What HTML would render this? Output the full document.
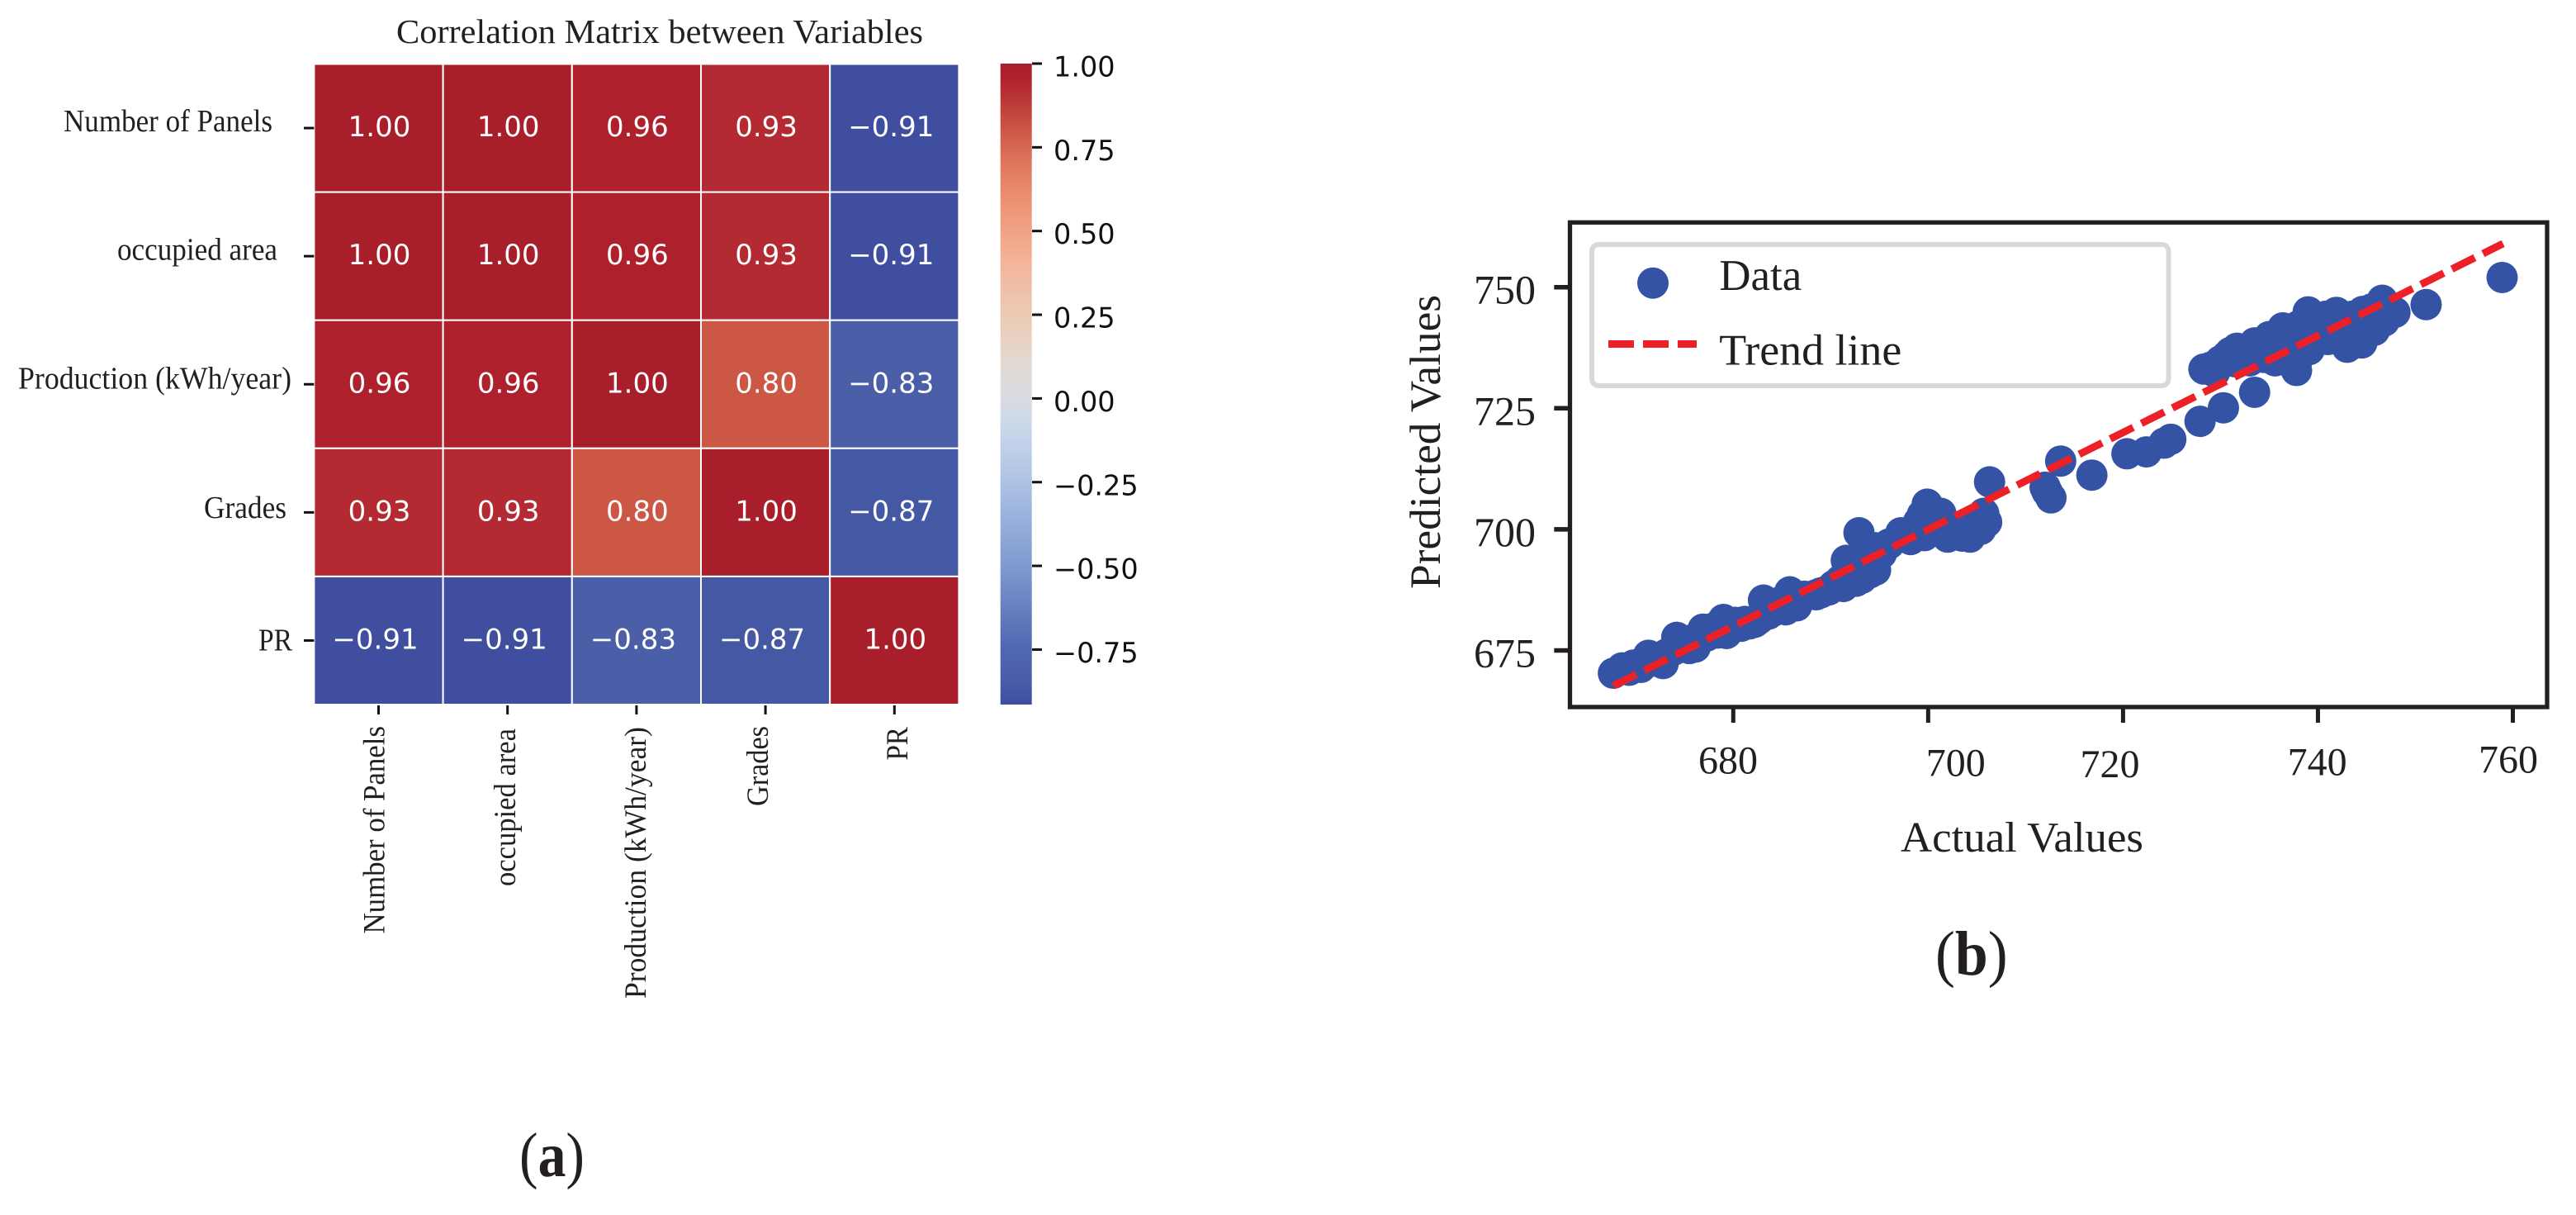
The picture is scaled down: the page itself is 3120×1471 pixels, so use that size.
<!DOCTYPE html>
<html>
<head>
<meta charset="utf-8">
<title>Correlation matrix and predicted vs actual</title>
<style>
html,body{margin:0;padding:0;background:#fff;}
svg{display:block;}
.serif{font-family:"Liberation Serif",serif;fill:#231f20;}
.sans{font-family:"DejaVu Sans",sans-serif;}
</style>
</head>
<body>
<svg id="fig" xmlns="http://www.w3.org/2000/svg" width="3120" height="1471" viewBox="0 0 3120 1471">
  <rect x="0" y="0" width="3120" height="1471" fill="#ffffff"/>
  <defs>
    <linearGradient id="cbGrad" x1="0" y1="0" x2="0" y2="1"></linearGradient>
  </defs>

  <!-- Panel (a) -->
  <text class="serif" x="480" y="52" font-size="41" textLength="638" lengthAdjust="spacingAndGlyphs">Correlation Matrix between Variables</text>
  <g id="heatCells"></g>
  <g id="heatAnnots"></g>
  <g id="heatTicks"></g>

  <text class="serif" x="77" y="159" font-size="38" textLength="253" lengthAdjust="spacingAndGlyphs">Number of Panels</text>
  <text class="serif" x="142" y="314.6" font-size="38" textLength="194" lengthAdjust="spacingAndGlyphs">occupied area</text>
  <text class="serif" x="22" y="470.7" font-size="38" textLength="331" lengthAdjust="spacingAndGlyphs">Production (kWh/year)</text>
  <text class="serif" x="247" y="627" font-size="38" textLength="100" lengthAdjust="spacingAndGlyphs">Grades</text>
  <text class="serif" x="313" y="787.6" font-size="38" textLength="41" lengthAdjust="spacingAndGlyphs">PR</text>

  <text class="serif" transform="translate(465.6 1130.5) rotate(-90)" font-size="37" textLength="251.5" lengthAdjust="spacingAndGlyphs">Number of Panels</text>
  <text class="serif" transform="translate(623.8 1073) rotate(-90)" font-size="37" textLength="191" lengthAdjust="spacingAndGlyphs">occupied area</text>
  <text class="serif" transform="translate(782 1209) rotate(-90)" font-size="37" textLength="329" lengthAdjust="spacingAndGlyphs">Production (kWh/year)</text>
  <text class="serif" transform="translate(930 976) rotate(-90)" font-size="37" textLength="97" lengthAdjust="spacingAndGlyphs">Grades</text>
  <text class="serif" transform="translate(1099 920.5) rotate(-90)" font-size="37" textLength="40.5" lengthAdjust="spacingAndGlyphs">PR</text>

  <rect x="1211.7" y="77" width="38" height="776" fill="url(#cbGrad)"/>
  <g id="cbTicks"></g>

  <text class="serif" x="629" y="1424" font-size="76" textLength="79" lengthAdjust="spacingAndGlyphs">(<tspan font-weight="bold">a</tspan>)</text>

  <!-- Panel (b) -->
  <g id="scatterPoints"></g>
  <line id="trendLine" stroke="#ee2027" stroke-width="9" stroke-dasharray="31 11" fill="none"/>
  <rect x="1901.5" y="269.3" width="1183.5" height="586.7" fill="none" stroke="#231f20" stroke-width="5.3"/>
  <g id="scatterTicks"></g>

  <text class="serif" x="2057" y="936.7" font-size="48" textLength="72" lengthAdjust="spacingAndGlyphs">680</text>
  <text class="serif" x="2332.7" y="939.3" font-size="48" textLength="72" lengthAdjust="spacingAndGlyphs">700</text>
  <text class="serif" x="2519.5" y="941" font-size="48" textLength="72" lengthAdjust="spacingAndGlyphs">720</text>
  <text class="serif" x="2770.6" y="938.3" font-size="48" textLength="72" lengthAdjust="spacingAndGlyphs">740</text>
  <text class="serif" x="3002" y="935.3" font-size="48" textLength="72" lengthAdjust="spacingAndGlyphs">760</text>

  <text class="serif" x="2302" y="1031" font-size="52" textLength="294" lengthAdjust="spacingAndGlyphs">Actual Values</text>
  <text class="serif" transform="translate(1744 713) rotate(-90)" font-size="52.5" textLength="356" lengthAdjust="spacingAndGlyphs">Predicted Values</text>

  <g>
    <rect x="1928" y="296" width="698.5" height="171" rx="8" ry="8" fill="#ffffff" stroke="#d9d9da" stroke-width="6"/>
    <circle cx="2002" cy="342.7" r="19" fill="#3553a4"/>
    <line x1="1948" y1="416.5" x2="2055" y2="416.5" stroke="#ee2027" stroke-width="9" stroke-dasharray="31 11"/>
    <text class="serif" x="2082.3" y="351" font-size="53" textLength="100" lengthAdjust="spacingAndGlyphs">Data</text>
    <text class="serif" x="2082.3" y="441.7" font-size="53" textLength="221" lengthAdjust="spacingAndGlyphs">Trend line</text>
  </g>

  <text class="serif" x="2344" y="1180" font-size="76" textLength="87.7" lengthAdjust="spacingAndGlyphs">(<tspan font-weight="bold">b</tspan>)</text>
</svg>

<script>
// ---- Heatmap data ----
const heatCategories = ["Number of Panels", "occupied area", "Production (kWh/year)", "Grades", "PR"];
const heatRow1 = [1.00, 1.00, 0.96, 0.93, -0.91];
const heatRow2 = [1.00, 1.00, 0.96, 0.93, -0.91];
const heatRow3 = [0.96, 0.96, 1.00, 0.80, -0.83];
const heatRow4 = [0.93, 0.93, 0.80, 1.00, -0.87];
const heatRow5 = [-0.91, -0.91, -0.83, -0.87, 1.00];
const colorbarTicks = [1.00, 0.75, 0.50, 0.25, 0.00, -0.25, -0.50, -0.75];

// ---- Colormap stops ----
const cmapValues = [1.00, 0.96, 0.93, 0.80, 0.70, 0.60, 0.50, 0.40, 0.25, 0.10, 0.00, -0.10, -0.25, -0.50, -0.75, -0.83, -0.87, -0.914];
const cmapColors = ["#a81e2b", "#ae202c", "#b42a32", "#cc5745", "#e0775d", "#ec8f70", "#f1a284", "#f3b59c", "#eccab4", "#e2dad2", "#d8dce2", "#c8d6eb", "#adc2e5", "#7f9ad0", "#5066af", "#4b5fa9", "#4558a4", "#404d9f"];

// ---- Scatter data ----
const actualValues = [667.7,668.6,669.3,669.8,670.5,670.8,671.3,671.8,672.3,672.8,673.2,673.9,674.2,674.6,675.0,675.5,675.8,676.1,676.4,676.9,677.3,677.6,678.1,678.4,678.6,679.0,679.3,680.2,680.8,681.2,681.7,682.2,682.6,683.1,683.6,684.0,684.5,684.8,685.4,685.8,686.0,686.5,687.3,688.5,689.0,689.8,690.3,691.0,691.3,691.6,692.0,692.2,692.6,692.9,693.0,693.2,693.4,693.8,694.0,694.2,694.6,694.6,695.2,696.0,697.2,697.8,698.2,698.8,699.0,699.4,699.6,699.9,700.0,700.5,700.8,701.0,701.3,702.0,702.5,703.1,703.5,704.3,704.9,705.0,705.4,705.7,706.0,706.3,712.0,712.2,712.6,713.6,716.8,720.4,722.4,724.2,724.9,727.9,730.3,733.5,728.3,729.0,729.4,729.7,730.0,730.7,731.0,731.5,731.7,732.0,732.5,733.0,733.5,734.5,734.5,735.0,735.0,735.5,735.6,736.0,736.4,736.5,736.8,737.0,737.2,737.5,737.8,738.0,738.0,738.5,739.0,739.0,739.1,739.8,740.0,740.3,740.8,741.0,741.7,741.9,742.0,742.5,743.0,743.0,743.5,744.0,744.3,744.5,744.6,745.2,745.5,745.8,746.0,746.6,746.8,747.0,747.9,751.1,758.9];
const predictedValues = [670.3,671.4,670.9,672.0,671.5,672.3,674.0,672.8,673.6,672.3,674.3,675.1,677.7,675.8,677.0,675.4,677.2,675.7,677.4,679.4,678.0,679.4,679.7,678.6,680.4,681.4,678.5,680.8,680.0,681.0,680.5,680.8,681.4,685.4,682.5,683.0,684.2,685.0,683.4,687.1,684.5,684.2,686.2,686.5,686.9,687.5,688.4,689.5,688.2,693.6,691.0,692.5,689.3,699.3,694.0,689.9,695.6,693.3,691.0,693.0,691.6,696.2,695.0,697.0,699.3,698.5,697.9,699.0,701.5,703.0,698.7,705.2,703.0,700.1,702.0,700.0,703.3,698.4,700.5,699.6,698.6,698.4,700.5,702.0,700.0,703.3,701.5,709.8,708.7,707.8,706.5,714.1,711.2,715.6,716.0,717.8,718.6,722.3,725.1,728.3,733.1,733.5,732.5,734.2,734.8,735.9,736.5,734.6,737.4,735.0,737.0,734.8,738.5,735.5,737.0,738.8,739.8,736.0,734.8,739.5,741.6,735.0,737.0,741.0,738.2,739.5,732.8,742.0,735.5,740.0,744.9,742.5,737.1,740.5,743.5,741.5,744.0,739.2,741.6,744.8,739.8,743.0,737.6,741.0,744.0,739.8,742.2,738.5,745.0,743.0,745.5,741.1,744.2,747.3,743.0,745.5,744.8,746.4,752.0];
const trendStart = 667.7;
const trendEnd = 759.0;
const scatterXTicks = [680, 700, 720, 740, 760];
const scatterYTicks = [750, 725, 700, 675];
const scatterYTickLabels = ["750", "725", "700", "675"];

// ---- Axis functions ----
const heatLeft = 380.4, heatTop = 77.5, cellW = 156.2, cellH = 155.1;
function heatX(col) { return heatLeft + col * cellW; }
function heatY(row) { return heatTop + row * cellH; }
function cbY(v) { return 482.4 - v * 405.4; }
function xScale(v) { return 2099.3 + (v - 680) * 11.8025; }
function yScale(v) { return 787.5 - (v - 675) * 5.864; }

function hexToRgb(h) {
  return [parseInt(h.slice(1, 3), 16), parseInt(h.slice(3, 5), 16), parseInt(h.slice(5, 7), 16)];
}
function colorFor(v) {
  if (v >= cmapValues[0]) return cmapColors[0];
  for (let i = 1; i < cmapValues.length; i++) {
    if (v >= cmapValues[i]) {
      const t = (v - cmapValues[i]) / (cmapValues[i - 1] - cmapValues[i]);
      const a = hexToRgb(cmapColors[i]);
      const b = hexToRgb(cmapColors[i - 1]);
      return "rgb(" + a.map((c, k) => Math.round(c + (b[k] - c) * t)).join(",") + ")";
    }
  }
  return cmapColors[cmapColors.length - 1];
}

const NS = "http://www.w3.org/2000/svg";
function make(tag, attrs, parent) {
  const el = document.createElementNS(NS, tag);
  for (const k in attrs) el.setAttribute(k, attrs[k]);
  parent.appendChild(el);
  return el;
}

// Heatmap
const heatMatrix = [heatRow1, heatRow2, heatRow3, heatRow4, heatRow5];
const cellsG = document.getElementById("heatCells");
const annotsG = document.getElementById("heatAnnots");
const heatTicksG = document.getElementById("heatTicks");
heatMatrix.forEach(function (rowVals, r) {
  rowVals.forEach(function (v, c) {
    const cell = make("rect", { x: heatX(c), y: heatY(r), width: cellW, height: cellH, fill: colorFor(v), stroke: "#ffffff", "stroke-width": 2 }, cellsG);
    
    
    const label = make("text", { x: heatX(c) + cellW / 2 + (v < 0 ? -4 : 1), y: heatY(r) + cellH / 2 + 10, "text-anchor": "middle", "font-size": 34, fill: "#ffffff", class: "sans" }, annotsG);
    label.textContent = v.toFixed(2).replace("-", "\u2212");
    
    
  });
});
heatCategories.forEach(function (name, i) {
  const ty = make("line", { x1: 368, x2: heatLeft, y1: heatY(i) + cellH / 2, y2: heatY(i) + cellH / 2, stroke: "#111111", "stroke-width": 3 }, heatTicksG);
  
  
  const tx = make("line", { y1: 854, y2: 865, x1: heatX(i) + cellW / 2, x2: heatX(i) + cellW / 2, stroke: "#111111", "stroke-width": 3 }, heatTicksG);
  
  
});

// Colorbar
const grad = document.getElementById("cbGrad");
const cbMin = cmapValues[cmapValues.length - 1], cbMax = cmapValues[0];
cmapValues.forEach(function (v, i) {
  make("stop", { offset: (cbMax - v) / (cbMax - cbMin), "stop-color": cmapColors[i] }, grad);
});
const cbTicksG = document.getElementById("cbTicks");
colorbarTicks.forEach(function (v) {
  const t = make("line", { x1: 1250, x2: 1262, y1: cbY(v), y2: cbY(v), stroke: "#111111", "stroke-width": 3 }, cbTicksG);
  
  
  const lab = make("text", { x: 1276, y: cbY(v) + 15.5, "font-size": 33.5, fill: "#111111", class: "sans" }, cbTicksG);
  lab.textContent = v.toFixed(2).replace("-", "\u2212");
  
  
});

// Scatter
const ptsG = document.getElementById("scatterPoints");
actualValues.forEach(function (a, i) {
  const pt = make("circle", { cx: xScale(a), cy: yScale(predictedValues[i]), r: 19, fill: "#3553a4" }, ptsG);
  
  
});
const tl = document.getElementById("trendLine");
tl.setAttribute("x1", xScale(trendStart));
tl.setAttribute("y1", yScale(trendStart));
tl.setAttribute("x2", xScale(trendEnd));
tl.setAttribute("y2", yScale(trendEnd));

const sTicksG = document.getElementById("scatterTicks");
scatterXTicks.forEach(function (v) {
  const t = make("line", { x1: xScale(v), x2: xScale(v), y1: 856, y2: 875, stroke: "#231f20", "stroke-width": 5 }, sTicksG);
  
  
});
scatterYTicks.forEach(function (v, i) {
  const t = make("line", { x1: 1882.3, x2: 1901, y1: yScale(v), y2: yScale(v), stroke: "#231f20", "stroke-width": 5.5 }, sTicksG);
  
  
  const lab = make("text", { x: 1860, y: yScale(v) + 20, "text-anchor": "end", "font-size": 50, class: "serif" }, sTicksG);
  lab.textContent = scatterYTickLabels[i];
  
  
});
</script>
</body>
</html>
